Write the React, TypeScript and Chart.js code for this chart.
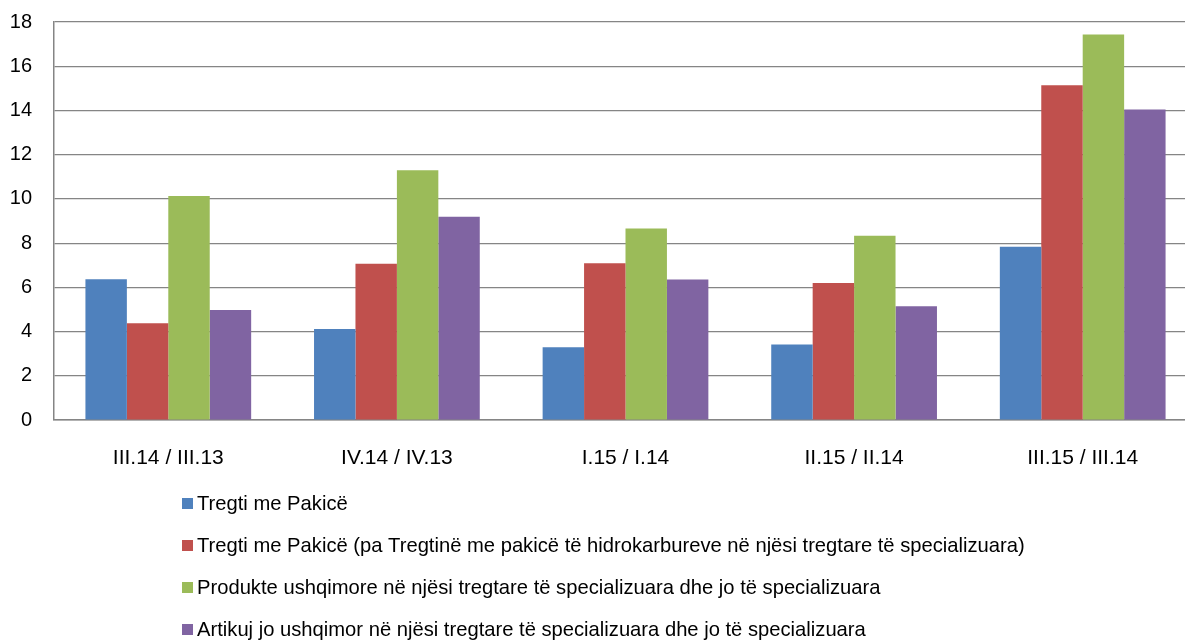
import React, { useEffect, useRef } from "react";
import { Chart, registerables } from "chart.js";

Chart.register(...registerables);

const categories = ["III.14 / III.13", "IV.14 / IV.13", "I.15 / I.14", "II.15 / II.14", "III.15 / III.14"];
const seriesNames = [
  "Tregti me Pakicë",
  "Tregti me Pakicë (pa Tregtinë me pakicë të hidrokarbureve në njësi tregtare të specializuara)",
  "Produkte ushqimore në njësi tregtare të specializuara dhe jo të specializuara",
  "Artikuj jo ushqimor në njësi tregtare të specializuara dhe jo të specializuara",
];
const retail = [6.37, 4.12, 3.29, 3.42, 7.83];
const retailNoFuel = [4.37, 7.07, 7.09, 6.2, 15.14];
const food = [10.13, 11.3, 8.66, 8.33, 17.43];
const nonFood = [4.98, 9.19, 6.35, 5.14, 14.04];
const yTicks = [0, 2, 4, 6, 8, 10, 12, 14, 16, 18];

const colors = ["#4F81BD", "#C0504D", "#9BBB59", "#8064A2"];
const FONT = "'Liberation Sans', Arial, sans-serif";

const legendPlugin = {
  id: "stackedLegend",
  afterDraw(chart: any) {
    const ctx = chart.ctx;
    const area = chart.chartArea;
    ctx.save();
    ctx.font = `20.2px ${FONT}`;
    ctx.textBaseline = "middle";
    ctx.textAlign = "left";
    chart.data.datasets.forEach((ds: any, i: number) => {
      const cy = area.bottom + 83 + i * 42;
      ctx.fillStyle = ds.backgroundColor;
      ctx.fillRect(182, cy - 5, 11, 11);
      ctx.fillStyle = "#000";
      ctx.fillText(ds.label, 197, cy + 1);
    });
    ctx.restore();
  },
};

export default function App() {
  const ref = useRef<HTMLCanvasElement | null>(null);
  useEffect(() => {
    if (!ref.current) return;
    const data = [retail, retailNoFuel, food, nonFood];
    const chart = new Chart(ref.current, {
      type: "bar",
      data: {
        labels: categories,
        datasets: data.map((d, i) => ({
          label: seriesNames[i],
          data: d,
          backgroundColor: colors[i],
          borderWidth: 0,
          categoryPercentage: 0.725,
          barPercentage: 1,
        })),
      },
      options: {
        animation: false,
        responsive: true,
        maintainAspectRatio: false,
        layout: { padding: { top: 22, right: 3, bottom: 172, left: 0 } },
        plugins: {
          legend: { display: false },
          tooltip: { enabled: false },
        },
        scales: {
          x: {
            afterFit: (scale: any) => {
              scale.height = 48;
            },
            grid: { display: false, drawTicks: false },
            border: { display: true, color: "#858585", width: 1.5 },
            ticks: { color: "#000", font: { family: FONT, size: 21 }, padding: 26, maxRotation: 0 },
          },
          y: {
            min: 0,
            max: 18,
            afterBuildTicks: (scale: any) => {
              scale.ticks = yTicks.map((v) => ({ value: v }));
            },
            afterFit: (scale: any) => {
              scale.width = 54;
            },
            grid: { color: "#858585", lineWidth: 1.2, drawTicks: true, tickLength: 22, tickColor: "rgba(0,0,0,0)" },
            border: { display: true, color: "#858585", width: 1.5 },
            ticks: { color: "#000", font: { family: FONT, size: 20 }, padding: 0 },
          },
        },
      },
      plugins: [legendPlugin],
    });
    return () => chart.destroy();
  }, []);
  return (
    <div style={{ position: "fixed", left: 0, top: 0, width: 1185, height: 640, overflow: "hidden", background: "#fff" }}>
      <div style={{ position: "relative", width: 1200, height: 640 }}>
        <canvas ref={ref} />
      </div>
    </div>
  );
}
